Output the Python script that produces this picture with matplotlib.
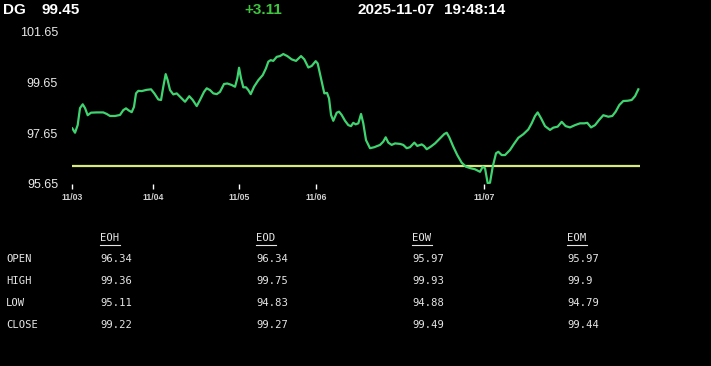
import matplotlib
matplotlib.use("Agg")
import matplotlib.pyplot as plt
from matplotlib.lines import Line2D

# ---- data ----
symbol = "DG"
last_price = "99.45"
change = "+3.11"
date_str = "2025-11-07"
time_str = "19:48:14"

t = [0.04, 0.38, 0.71, 1.0, 1.34, 1.63, 1.96, 2.38, 3.09, 3.91, 4.34, 4.75, 5.38, 6.0,
     6.41, 6.75, 7.13, 7.46, 7.75, 8.0, 8.29, 8.71, 9.34, 9.88, 10.29, 10.79, 11.13,
     11.41, 11.71, 11.96, 12.25, 12.66, 13.09, 13.5, 14.13, 14.66, 15.09, 15.59, 16.0,
     16.5, 16.84, 17.25, 17.66, 18.09, 18.5, 19.0, 19.41, 19.96, 20.38, 20.66, 20.88,
     21.13, 21.41, 21.75, 22.04, 22.34, 22.75, 23.29, 23.84, 24.25, 24.54, 24.84, 25.16,
     25.59, 26.0, 26.41, 26.91, 27.46, 28.0, 28.63, 29.04, 29.54, 29.96, 30.46, 30.71,
     31.13, 31.54, 31.88, 32.13, 32.38, 32.66, 33.09, 33.38, 33.71, 34.13, 34.54, 34.88,
     35.16, 35.46, 35.79, 36.13, 36.41, 36.75, 37.25, 37.79, 38.5, 38.91, 39.21, 39.54,
     39.96, 40.38, 41.0, 41.41, 41.84, 42.25, 42.79, 43.16, 43.71, 44.0, 44.34, 44.84,
     45.38, 46.0, 46.54, 46.84, 47.16, 47.66, 48.16, 48.71, 49.25, 49.84, 50.38, 51.0,
     51.34, 51.63, 51.96, 52.25, 52.59, 53.0, 53.29, 53.71, 54.13, 54.75, 55.25, 55.79,
     56.41, 57.04, 57.46, 57.88, 58.21, 58.63, 59.13, 59.75, 60.16, 60.71, 61.21, 61.71,
     62.25, 62.88, 63.5, 64.04, 64.41, 64.88, 65.38, 65.88, 66.41, 67.04, 67.54, 67.96,
     68.41, 68.91, 69.46, 69.96, 70.38, 70.79]

price = [97.84, 97.67, 97.97, 98.64, 98.79, 98.64, 98.36, 98.46, 98.47, 98.47, 98.41,
         98.33, 98.33, 98.37, 98.56, 98.63, 98.54, 98.48, 98.69, 99.22, 99.32, 99.31,
         99.36, 99.38, 99.22, 98.98, 98.96, 99.48, 99.98, 99.74, 99.35, 99.18, 99.22,
         99.09, 98.89, 99.11, 98.96, 98.72, 98.96, 99.28, 99.42, 99.35, 99.22, 99.19,
         99.28, 99.59, 99.61, 99.55, 99.48, 99.81, 100.23, 99.81, 99.46, 99.46, 99.35,
         99.19, 99.48, 99.74, 99.94, 100.21, 100.47, 100.53, 100.50, 100.66, 100.69,
         100.77, 100.69, 100.56, 100.50, 100.69, 100.56, 100.24, 100.30, 100.49, 100.40,
         99.81, 99.22, 99.24, 99.02, 98.37, 98.14, 98.46, 98.50, 98.37, 98.14, 97.97,
         97.93, 98.06, 98.00, 98.04, 98.41, 98.04, 97.38, 97.06, 97.10, 97.19, 97.32,
         97.49, 97.28, 97.19, 97.25, 97.23, 97.19, 97.06, 97.10, 97.28, 97.15, 97.21,
         97.15, 97.02, 97.12, 97.25, 97.45, 97.62, 97.67, 97.49, 97.12, 96.79, 96.49,
         96.33, 96.27, 96.23, 96.13, 96.33, 96.27, 95.68, 95.70, 96.33, 96.86, 96.92,
         96.79, 96.79, 96.99, 97.23, 97.47, 97.61, 97.80, 98.04, 98.33, 98.47, 98.24,
         97.93, 97.78, 97.87, 97.91, 98.10, 97.93, 97.88, 97.97, 98.04, 98.04, 98.06,
         97.88, 97.97, 98.17, 98.36, 98.30, 98.33, 98.50, 98.76, 98.92, 98.93, 98.96,
         99.11, 99.38]

ref_level = 96.34
y_ticks = [95.65, 97.65, 99.65, 101.65]
x_tick_pos = [0.0, 10.13, 20.88, 30.5, 51.5]
x_tick_labels = ["11/03", "11/04", "11/05", "11/06", "11/07"]

row_labels = ["OPEN", "HIGH", "LOW", "CLOSE"]
col_labels = ["EOH", "EOD", "EOW", "EOM"]
table_values = [
    ["96.34", "96.34", "95.97", "95.97"],
    ["99.36", "99.75", "99.93", "99.9"],
    ["95.11", "94.83", "94.88", "94.79"],
    ["99.22", "99.27", "99.49", "99.44"],
]

# ---- figure ----
W, H = 711, 366
fig = plt.figure(figsize=(W / 100, H / 100), dpi=100, facecolor="black")

def fx(px):
    return px / W

def fy(py):
    return 1 - py / H

ax = fig.add_axes([fx(72), fy(184), (640 - 72) / W, (184 - 31.7) / H])
ax.set_facecolor("black")
ax.plot(t, price, color="#3fd470", lw=1.6, solid_joinstyle="round", zorder=3)
ax.axhline(ref_level, color="#d6eb7c", lw=1.6, zorder=2)
ax.set_xlim(0, 71)
ax.set_ylim(95.65, 101.65)
for s in ax.spines.values():
    s.set_visible(False)

ax.set_yticks(y_ticks)
ax.set_yticklabels([f"{v:.2f}" for v in y_ticks], fontsize=9,
                   family="Liberation Sans", color="#e8e8e8")
ax.tick_params(axis="y", length=0, pad=10)

ax.set_xticks(x_tick_pos)
ax.set_xticklabels(x_tick_labels, fontsize=6.3, family="Liberation Sans",
                   color="#d0d0d0", fontweight="bold")
ax.tick_params(axis="x", length=3.5, width=1, color="white", pad=3)

# ---- header ----
hdr = dict(fontsize=11, fontweight="bold", family="Liberation Sans", va="center")
fig.text(fx(3), fy(9.5), symbol, color="white", **hdr)
fig.text(fx(41), fy(9.5), last_price, color="white", **hdr)
fig.text(fx(244), fy(9.5), change, color="#3fc43f", **hdr)
fig.text(fx(358), fy(9.5), date_str, color="white", **hdr)
fig.text(fx(444), fy(9.5), time_str, color="white", **hdr)

# ---- table ----
tb = dict(fontsize=7.6, family="DejaVu Sans Mono", color="#e6e6e6", va="center")
col_x = [100, 256, 412, 567]
row_y = [259, 281, 303, 325]
for cx, lab in zip(col_x, col_labels):
    fig.text(fx(cx), fy(238), lab, **tb)
    fig.add_artist(Line2D([fx(cx), fx(cx + 20)], [fy(244.5), fy(244.5)],
                          color="#e6e6e6", lw=0.8, transform=fig.transFigure))
for ry, lab, vals in zip(row_y, row_labels, table_values):
    fig.text(fx(6), fy(ry), lab, **tb)
    for cx, v in zip(col_x, vals):
        fig.text(fx(cx), fy(ry), v, **tb)

fig.savefig("out.png", dpi=100, facecolor="black")
